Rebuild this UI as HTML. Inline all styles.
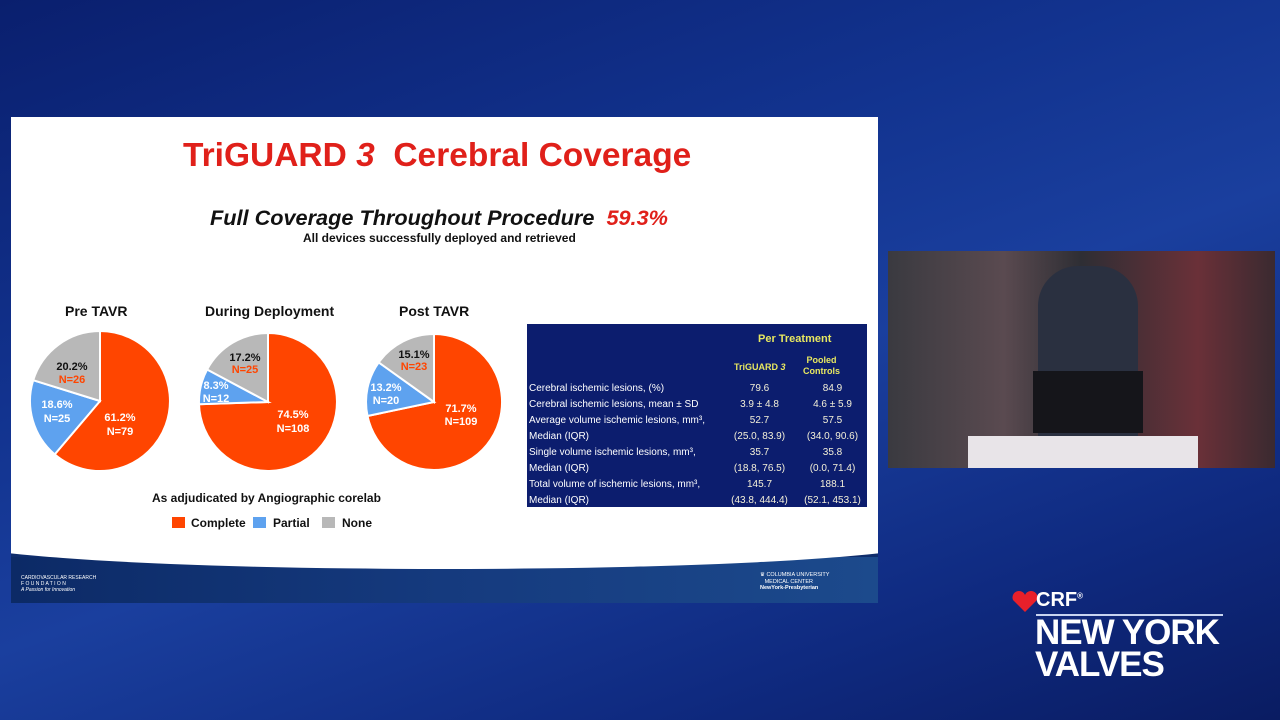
<!DOCTYPE html>
<html><head><meta charset="utf-8"><style>
*{margin:0;padding:0;box-sizing:border-box}
body{width:1280px;height:720px;overflow:hidden;position:relative;font-family:"Liberation Sans",sans-serif;
background:linear-gradient(160deg,#0a1f6e 0%,#12338f 35%,#1a3f9e 55%,#0f2a80 80%,#0a1c62 100%);}
.abs{position:absolute}
.slide{left:11px;top:117px;width:867px;height:486px;background:#0f2d6c;overflow:hidden}
.white{left:-60px;top:-600px;width:987px;height:1052px;background:#fff;border-bottom-left-radius:50% 30px;border-bottom-right-radius:50% 30px}
.t{position:absolute;white-space:nowrap}
.tb{left:527px;top:324px;width:340px;height:183px;background:#0c1d6e;font-family:"Liberation Sans",sans-serif;font-size:10px;color:#fff}
.y{color:#e8e860;font-weight:bold}
</style></head><body>
<div class="abs slide">
 <div class="abs" style="left:0;top:440px;width:867px;height:46px;background:linear-gradient(90deg,#0c2a66,#153a7e 50%,#1c4a8c)"></div>
 <div class="abs white"></div>
 <div class="t" style="left:10px;top:458px;color:#fff;font-size:5px;line-height:6px">CARDIOVASCULAR RESEARCH<br>F O U N D A T I O N<br><i>A Passion for Innovation</i></div>
 <div class="t" style="left:749px;top:455px;color:#fff;font-size:5.5px;line-height:6.5px">&#9819; COLUMBIA UNIVERSITY<br>&nbsp;&nbsp;&nbsp;MEDICAL CENTER<br><b>NewYork-Presbyterian</b></div>
</div>
<div class="t" style="left:183px;top:137px;font-size:33.5px;font-weight:bold;color:#e0201a">TriGUARD <i>3</i>&nbsp; Cerebral Coverage</div>
<div class="t" style="left:210px;top:205px;font-size:21.7px;font-weight:bold;font-style:italic;color:#111">Full Coverage Throughout Procedure&nbsp; <span style="color:#e0201a">59.3%</span></div>
<div class="t" style="left:303px;top:231px;font-size:12px;font-weight:bold;color:#111">All devices successfully deployed and retrieved</div>
<div class="t" style="left:65px;top:303px;font-size:14px;font-weight:bold;color:#111">Pre TAVR</div>
<div class="t" style="left:205px;top:303px;font-size:14px;font-weight:bold;color:#111">During Deployment</div>
<div class="t" style="left:399px;top:303px;font-size:14px;font-weight:bold;color:#111">Post TAVR</div>
<svg class="abs" style="left:0;top:0" width="880" height="560" font-family="Liberation Sans" font-weight="bold" font-size="11">
 <g stroke="#fff" stroke-width="2">
 <path d="M100 401 L100 331 A70 70 0 1 1 54.7 454.4 Z" fill="#ff4500"/>
 <path d="M100 401 L54.7 454.4 A70 70 0 0 1 33.2 380.2 Z" fill="#5ea2ef"/>
 <path d="M100 401 L33.2 380.2 A70 70 0 0 1 100 331 Z" fill="#b8b8b8"/>
 <path d="M268 402 L268 333 A69 69 0 1 1 199 404.2 Z" fill="#ff4500"/>
 <path d="M268 402 L199 404.2 A69 69 0 0 1 207.1 369.5 Z" fill="#5ea2ef"/>
 <path d="M268 402 L207.1 369.5 A69 69 0 0 1 268 333 Z" fill="#b8b8b8"/>
 <path d="M434 402 L434 334 A68 68 0 1 1 367.5 416 Z" fill="#ff4500"/>
 <path d="M434 402 L367.5 416 A68 68 0 0 1 378.7 362.4 Z" fill="#5ea2ef"/>
 <path d="M434 402 L378.7 362.4 A68 68 0 0 1 434 334 Z" fill="#b8b8b8"/>
 </g>
 <g text-anchor="middle">
 <text x="120" y="421" fill="#fff">61.2%</text><text x="120" y="435" fill="#fff">N=79</text>
 <text x="57" y="408" fill="#fff">18.6%</text><text x="57" y="422" fill="#fff">N=25</text>
 <text x="72" y="370" fill="#111">20.2%</text><text x="72" y="383" fill="#ff4500">N=26</text>
 <text x="293" y="418" fill="#fff">74.5%</text><text x="293" y="432" fill="#fff">N=108</text>
 <text x="216" y="389" fill="#fff">8.3%</text><text x="216" y="402" fill="#fff">N=12</text>
 <text x="245" y="361" fill="#111">17.2%</text><text x="245" y="373" fill="#ff4500">N=25</text>
 <text x="461" y="412" fill="#fff">71.7%</text><text x="461" y="425" fill="#fff">N=109</text>
 <text x="386" y="391" fill="#fff">13.2%</text><text x="386" y="404" fill="#fff">N=20</text>
 <text x="414" y="358" fill="#111">15.1%</text><text x="414" y="370" fill="#ff4500">N=23</text>
 </g>
 <text x="152" y="502" font-size="12" fill="#111">As adjudicated by Angiographic corelab</text>
 <rect x="172" y="517" width="13" height="11" fill="#ff4500"/><text x="191" y="527" font-size="12" fill="#111">Complete</text>
 <rect x="253" y="517" width="13" height="11" fill="#5ea2ef"/><text x="273" y="527" font-size="12" fill="#111">Partial</text>
 <rect x="322" y="517" width="13" height="11" fill="#b8b8b8"/><text x="342" y="527" font-size="12" fill="#111">None</text>
</svg>
<div class="abs tb">
 <div class="t y" style="left:231px;top:9px;font-size:11px">Per Treatment</div>
 <div class="t y" style="left:207px;top:38px;font-size:9px">TriGUARD <i>3</i></div>
 <div class="t y" style="left:276px;top:31px;font-size:9px;text-align:center;line-height:11px">Pooled<br>Controls</div>
 <div class="t" style="left:2px;top:57px;line-height:16px">Cerebral ischemic lesions, (%)<br>Cerebral ischemic lesions, mean ± SD<br>Average volume ischemic lesions, mm³,<br>Median (IQR)<br>Single volume ischemic lesions, mm³,<br>Median (IQR)<br>Total volume of ischemic lesions, mm³,<br>Median (IQR)</div>
 <div class="t" style="left:190px;top:57px;width:85px;text-align:center;line-height:16px;color:#f4f0d8">79.6<br>3.9 ± 4.8<br>52.7<br>(25.0, 83.9)<br>35.7<br>(18.8, 76.5)<br>145.7<br>(43.8, 444.4)</div>
 <div class="t" style="left:268px;top:57px;width:75px;text-align:center;line-height:16px;color:#f4f0d8">84.9<br>4.6 ± 5.9<br>57.5<br>(34.0, 90.6)<br>35.8<br>(0.0, 71.4)<br>188.1<br>(52.1, 453.1)</div>
</div>
<div class="abs" style="left:888px;top:251px;width:387px;height:217px;background:linear-gradient(90deg,#3a3a40,#5a4a50 30%,#2e2e34 50%,#6a3038 80%,#3a2a30)">
 <div class="abs" style="left:150px;top:15px;width:100px;height:170px;background:#2a3040;border-radius:40px 40px 0 0"></div>
 <div class="abs" style="left:80px;top:185px;width:230px;height:32px;background:#e8e4e8"></div>
 <div class="abs" style="left:145px;top:120px;width:110px;height:62px;background:#15151a"></div>
</div>
<svg class="abs" style="left:1010px;top:590px" width="30" height="24"><path d="M15 22 L3 10 A6 6 0 0 1 15 5 A6 6 0 0 1 27 10 Z" fill="#e8202a"/></svg>
<div class="t" style="left:1036px;top:589px;color:#fff;font-size:20px;font-weight:bold">CRF<sup style="font-size:8px">®</sup></div>
<div class="abs" style="left:1036px;top:614px;width:187px;height:2px;background:#c8d4f0"></div>
<div class="t" style="left:1035px;top:617px;color:#fff;font-size:35px;font-weight:bold;line-height:32px;letter-spacing:-1px">NEW YORK<br>VALVES</div>
</body></html>
